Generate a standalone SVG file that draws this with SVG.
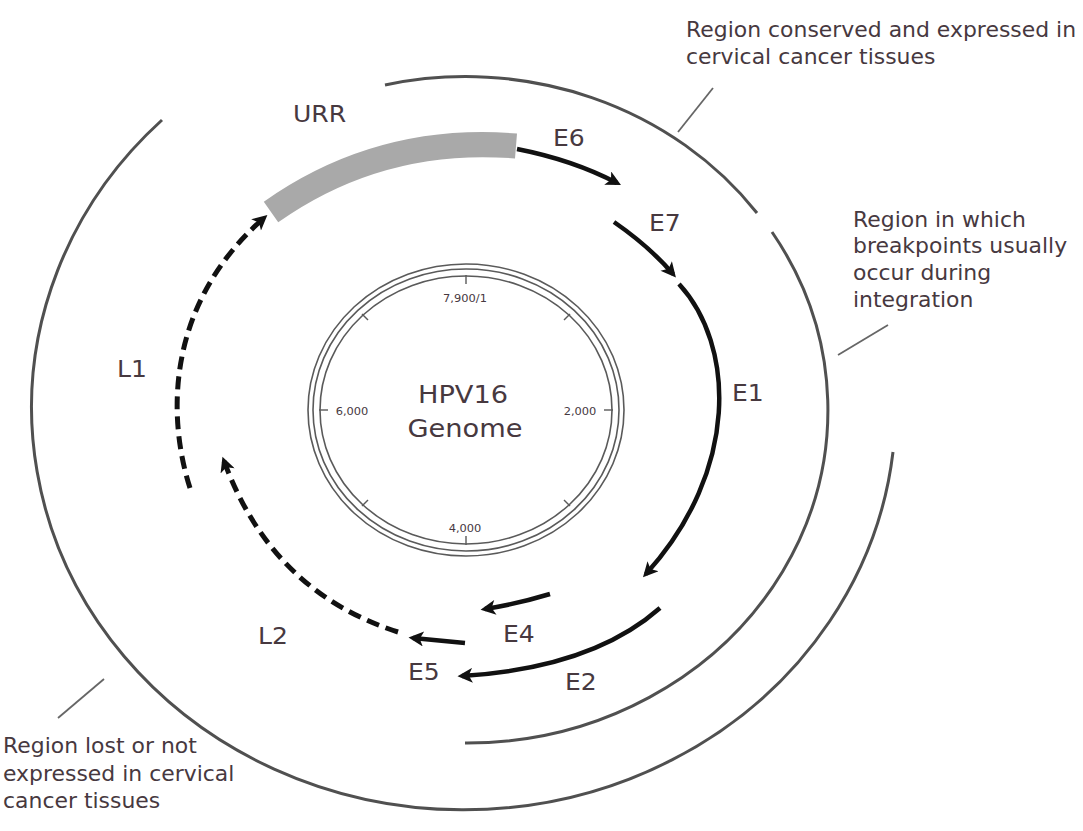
<svg xmlns="http://www.w3.org/2000/svg" width="1083" height="831" viewBox="0 0 1083 831">
<style>
.txt{font-family:"DejaVu Sans","Open Sans",sans-serif;font-size:20.5px;fill:#47393f}
.gl{font-family:"DejaVu Sans","Open Sans",sans-serif;font-size:23px;fill:#47393f}
.sm{font-family:"DejaVu Sans","Open Sans",sans-serif;font-size:10.5px;fill:#47393f}
.big{font-family:"DejaVu Sans","Open Sans",sans-serif;font-size:25px;fill:#47393f}
.region{fill:none;stroke:#505050;stroke-width:3}
.ring{fill:none;stroke:#5a5a5a;stroke-width:1.6}
.tick{stroke:#5a5a5a;stroke-width:1.4}
.lead{stroke:#666;stroke-width:1.8}
.gene{fill:none;stroke:#111;stroke-width:4.5;marker-end:url(#ah)}
.dash{fill:none;stroke:#111;stroke-width:5;stroke-dasharray:13 7;marker-end:url(#ah)}
</style>
<defs>
<marker id="ah" viewBox="0 0 10 10" refX="7" refY="5" markerWidth="17" markerHeight="15" markerUnits="userSpaceOnUse" orient="auto">
<path d="M0,0 L10,5 L0,10 L2.5,5 z" fill="#111"/>
</marker>
</defs>
<rect width="1083" height="831" fill="#fff"/>

<g id="region-conserved">
<path class="region" d="M385,85 A361,333 0 0 1 757,213"/>
<text class="txt" transform="translate(686,37) scale(1.07,1)">Region conserved and expressed in</text>
<text class="txt" transform="translate(686,64) scale(1.07,1)">cervical cancer tissues</text>
</g>

<g id="region-breakpoints">
<path class="region" d="M772,232 A361,333 0 0 1 465,743"/>
<text class="txt" transform="translate(853,227) scale(1.07,1)">Region in which</text>
<text class="txt" transform="translate(853,253) scale(1.07,1)">breakpoints usually</text>
<text class="txt" transform="translate(853,280) scale(1.07,1)">occur during</text>
<text class="txt" transform="translate(853,307) scale(1.07,1)">integration</text>
</g>

<g id="region-lost">
<path class="region" d="M162,120 A432,402 0 1 0 893,452"/>
<text class="txt" transform="translate(3,753) scale(1.07,1)">Region lost or not</text>
<text class="txt" transform="translate(3,781) scale(1.07,1)">expressed in cervical</text>
<text class="txt" transform="translate(3,808) scale(1.07,1)">cancer tissues</text>
</g>

<g id="genome">
<ellipse class="ring" cx="466" cy="410" rx="158" ry="146"/>
<ellipse class="ring" cx="466" cy="410" rx="153" ry="141"/>
<ellipse class="ring" cx="466" cy="410" rx="146" ry="134"/>
<line class="tick" x1="466" y1="275" x2="466" y2="284"/>
<line class="tick" x1="613" y1="410" x2="604" y2="410"/>
<line class="tick" x1="466" y1="545" x2="466" y2="536"/>
<line class="tick" x1="319" y1="410" x2="328" y2="410"/>
<line class="tick" x1="570" y1="314" x2="564" y2="320"/>
<line class="tick" x1="570" y1="506" x2="564" y2="500"/>
<line class="tick" x1="362" y1="506" x2="368" y2="500"/>
<line class="tick" x1="362" y1="314" x2="368" y2="320"/>
<text class="sm" text-anchor="middle" transform="translate(465,302) scale(1.09,1)">7,900/1</text>
<text class="sm" text-anchor="middle" transform="translate(580,415) scale(1.09,1)">2,000</text>
<text class="sm" text-anchor="middle" transform="translate(465,532) scale(1.09,1)">4,000</text>
<text class="sm" text-anchor="middle" transform="translate(352,415) scale(1.09,1)">6,000</text>
<text class="big" text-anchor="middle" transform="translate(463,403) scale(1.09,1)">HPV16</text>
<text class="big" text-anchor="middle" transform="translate(465,437) scale(1.09,1)">Genome</text>
</g>

<g id="URR">
<path d="M271,212 Q380,135 516,146" fill="none" stroke="#a9a9a9" stroke-width="25"/>
<text class="gl" transform="translate(293,122) scale(1.09,1)">URR</text>
</g>

<g id="E6">
<path class="gene" d="M517,149 Q573,160 617,183"/>
<text class="gl" transform="translate(553,146) scale(1.09,1)">E6</text>
</g>
<g id="E7">
<path class="gene" d="M614,222 Q650,247 673,274"/>
<text class="gl" transform="translate(649,231) scale(1.09,1)">E7</text>
</g>
<g id="E1">
<path class="gene" d="M679,284 C735,345 740,470 646,574"/>
<text class="gl" transform="translate(732,401) scale(1.09,1)">E1</text>
</g>
<g id="E2">
<path class="gene" d="M660,608 Q592,668 462,676"/>
<text class="gl" transform="translate(565,690) scale(1.09,1)">E2</text>
</g>
<g id="E4">
<path class="gene" d="M550,594 Q517,604 485,609"/>
<text class="gl" transform="translate(503,642) scale(1.09,1)">E4</text>
</g>
<g id="E5">
<path class="gene" d="M465,643 L413,638"/>
<text class="gl" transform="translate(408,680) scale(1.09,1)">E5</text>
</g>
<g id="L2">
<path class="dash" d="M398,632 Q272,592 224,461"/>
<text class="gl" transform="translate(258,644) scale(1.09,1)">L2</text>
</g>
<g id="L1">
<path class="dash" d="M190,488 C165,410 170,300 264,218"/>
<text class="gl" transform="translate(117,377) scale(1.09,1)">L1</text>
</g>

<g id="connectors">
<line class="lead" x1="678" y1="132" x2="713" y2="88"/>
<line class="lead" x1="838" y1="355" x2="888" y2="325"/>
<line class="lead" x1="58" y1="718" x2="104" y2="679"/>
</g>
</svg>
